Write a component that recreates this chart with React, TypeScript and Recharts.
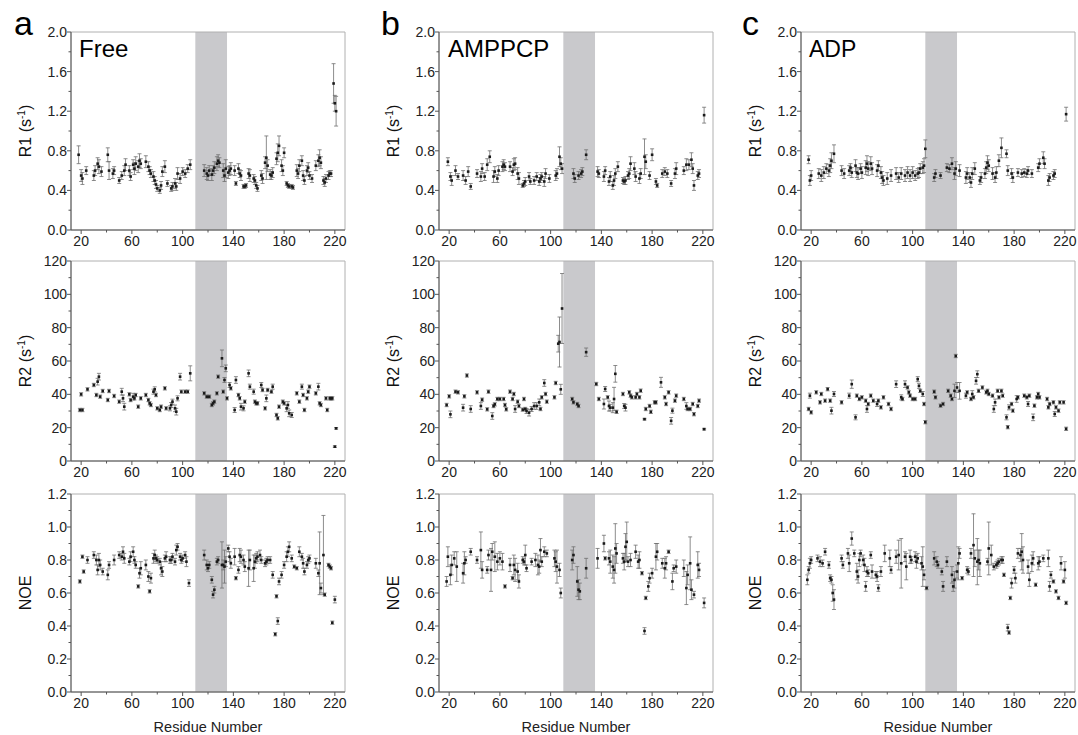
import React from 'react';
import { ScatterChart, Scatter, XAxis, YAxis, ErrorBar, ReferenceArea } from 'recharts';

const FONT = '"Liberation Sans", Arial, Helvetica, sans-serif';

// ---------- axis ticks ----------
const X_TICKS = [20, 40, 60, 80, 100, 120, 140, 160, 180, 200, 220];
const X_LABELS = [20, 60, 100, 140, 180, 220];
const R1_TICKS = [0, 0.2, 0.4, 0.6, 0.8, 1.0, 1.2, 1.4, 1.6, 1.8, 2.0];
const R1_LABELS = [0, 0.4, 0.8, 1.2, 1.6, 2.0];
const R2_TICKS = [0, 10, 20, 30, 40, 50, 60, 70, 80, 90, 100, 110, 120];
const R2_LABELS = [0, 20, 40, 60, 80, 100, 120];
const NOE_TICKS = [0, 0.1, 0.2, 0.3, 0.4, 0.5, 0.6, 0.7, 0.8, 0.9, 1.0, 1.1, 1.2];
const NOE_LABELS = [0, 0.2, 0.4, 0.6, 0.8, 1.0, 1.2];

const CONDITIONS = ['Free', 'AMPPCP', 'ADP'];
const PANEL_LETTERS = ['a', 'b', 'c'];
const BAND = [110, 135];

// ---------- Free ----------
const FREE_R1_RES = [18,20,21,24,30,31,33,34,36,41,42,45,46,50,52,54,55,58,59,61,62,63,65,66,67,71,73,74,75,77,78,79,80,82,83,84,86,88,91,92,94,95,96,98,100,102,104,106,117,119,120,121,123,124,125,127,128,129,132,133,134,136,137,138,141,142,144,145,146,148,149,150,152,153,156,157,158,159,162,163,165,166,167,169,170,171,174,175,176,178,179,180,182,183,184,186,187,190,191,192,194,195,196,198,199,200,202,205,207,208,209,211,212,213,215,216,217,219,220,221];
const FREE_R1_VAL = [0.76,0.55,0.52,0.60,0.55,0.60,0.67,0.64,0.59,0.76,0.60,0.57,0.60,0.50,0.55,0.60,0.66,0.60,0.54,0.66,0.62,0.67,0.64,0.70,0.67,0.69,0.64,0.60,0.57,0.54,0.50,0.46,0.42,0.40,0.45,0.59,0.64,0.47,0.42,0.44,0.47,0.44,0.57,0.52,0.59,0.57,0.62,0.66,0.60,0.57,0.55,0.60,0.56,0.60,0.63,0.67,0.70,0.68,0.60,0.55,0.62,0.58,0.60,0.62,0.60,0.47,0.62,0.57,0.55,0.44,0.44,0.45,0.57,0.55,0.52,0.50,0.45,0.42,0.55,0.52,0.68,0.73,0.65,0.56,0.55,0.58,0.72,0.78,0.85,0.65,0.60,0.78,0.47,0.45,0.44,0.44,0.43,0.60,0.57,0.65,0.70,0.55,0.50,0.60,0.63,0.55,0.52,0.65,0.70,0.73,0.68,0.50,0.48,0.52,0.55,0.57,0.57,1.48,1.28,1.20];
const FREE_R1_ERR = [0.09,0.06,0.06,0.04,0.05,0.05,0.06,0.07,0.05,0.07,0.09,0.05,0.04,0.03,0.04,0.05,0.06,0.05,0.04,0.05,0.06,0.07,0.06,0.07,0.05,0.06,0.05,0.04,0.04,0.05,0.04,0.04,0.03,0.03,0.04,0.05,0.06,0.03,0.03,0.04,0.05,0.04,0.06,0.05,0.04,0.04,0.04,0.05,0.06,0.06,0.05,0.05,0.06,0.05,0.06,0.07,0.06,0.05,0.07,0.06,0.09,0.06,0.05,0.06,0.05,0.02,0.05,0.04,0.05,0.02,0.02,0.02,0.05,0.06,0.04,0.04,0.03,0.03,0.05,0.05,0.06,0.22,0.06,0.05,0.04,0.05,0.06,0.09,0.10,0.06,0.05,0.05,0.02,0.02,0.02,0.02,0.02,0.06,0.05,0.06,0.05,0.05,0.04,0.05,0.05,0.04,0.04,0.05,0.06,0.08,0.06,0.04,0.04,0.04,0.04,0.03,0.03,0.20,0.08,0.15];

const FREE_R2_RES = [19,20,21,25,30,32,33,34,35,37,41,42,46,50,52,53,54,58,59,61,62,63,65,67,71,73,74,75,77,78,79,80,82,83,86,87,90,91,92,94,95,96,98,99,102,104,106,117,119,121,123,124,125,127,128,131,132,133,134,135,137,138,141,142,144,145,146,148,149,152,153,156,157,158,159,162,163,165,166,167,170,171,174,175,176,179,180,182,183,184,186,190,192,194,195,196,198,199,200,205,207,208,209,213,214,216,217,218,220,221];
const FREE_R2_VAL = [30.6,40.0,30.6,43.0,45.6,39.6,47.6,50.6,38.6,42.0,36.6,42.0,39.0,35.6,41.6,37.6,32.6,40.0,36.6,38.6,37.6,39.6,32.6,37.6,39.6,36.6,34.6,33.6,41.6,43.0,39.6,31.6,30.6,32.6,43.6,31.6,31.6,33.6,35.6,31.6,29.6,37.6,50.6,41.6,41.6,41.6,52.6,40.6,38.6,38.6,33.6,34.6,35.6,40.6,50.6,61.6,41.6,48.6,55.6,37.6,45.6,43.6,30.6,48.6,39.6,37.6,32.6,31.6,35.6,52.6,44.6,41.6,35.6,34.6,34.6,45.6,42.6,31.6,37.6,42.6,41.6,44.6,27.6,25.6,32.6,35.6,34.6,31.6,33.6,28.6,27.6,40.6,35.6,44.6,39.6,30.6,37.6,41.6,44.6,40.6,44.6,34.6,33.6,37.6,30.6,37.6,37.6,37.6,8.6,19.6];
const FREE_R2_ERR = [1,1,1,1,1,1,2,2,1,1,1,1,1,1,2,2,2,1,1,2,1,1,1,1,1,1,1,1,1.5,1.5,1,1,1,1,1,1,1.5,1.5,1.5,2,2,1.5,2,1,1,1,4.5,1,1,1,1,1,1,1,1,5,1,1.5,2,1,1.5,1,1.5,2,1,1,2,1.5,1,2,1.5,1.5,1,1,1,1.5,1,1,2,1,1,1.5,1,1,1,1,1,2,2,2,1.5,1,1,1.5,1,1,1,1,1,1,2,1,1,1,1,1,1,1,0.5,0.5];

const FREE_NOE_RES = [19,21,22,25,30,32,33,34,35,37,41,42,46,50,52,53,54,58,59,61,62,63,65,66,67,71,73,74,75,77,78,79,80,82,83,84,86,87,90,91,92,94,95,96,98,99,100,102,103,105,117,119,120,121,123,124,125,127,128,131,132,133,134,136,137,138,141,142,144,145,146,148,149,152,153,156,157,158,159,161,162,165,166,167,169,171,173,174,175,176,178,180,182,183,184,186,188,190,192,194,195,196,198,199,200,205,207,208,209,211,212,215,216,217,218,220];
const FREE_NOE_VAL = [0.67,0.82,0.73,0.80,0.83,0.80,0.74,0.80,0.77,0.73,0.71,0.77,0.80,0.83,0.82,0.85,0.81,0.79,0.82,0.85,0.80,0.77,0.64,0.72,0.75,0.77,0.70,0.61,0.69,0.81,0.83,0.81,0.80,0.79,0.75,0.73,0.81,0.82,0.80,0.80,0.82,0.79,0.86,0.88,0.82,0.80,0.81,0.83,0.79,0.66,0.83,0.77,0.75,0.77,0.68,0.59,0.62,0.79,0.80,0.77,0.77,0.76,0.79,0.87,0.82,0.78,0.82,0.69,0.74,0.83,0.82,0.80,0.76,0.75,0.80,0.75,0.79,0.81,0.82,0.83,0.80,0.78,0.79,0.80,0.80,0.71,0.35,0.58,0.43,0.67,0.71,0.77,0.82,0.85,0.88,0.81,0.76,0.75,0.85,0.82,0.78,0.73,0.77,0.80,0.81,0.78,0.72,0.78,0.63,0.83,0.59,0.77,0.76,0.75,0.42,0.56];
const FREE_NOE_ERR = [0.01,0.01,0.01,0.02,0.02,0.03,0.03,0.04,0.03,0.02,0.03,0.02,0.03,0.02,0.02,0.03,0.03,0.02,0.03,0.03,0.02,0.02,0.01,0.03,0.04,0.03,0.03,0.01,0.03,0.03,0.03,0.02,0.02,0.02,0.04,0.03,0.02,0.03,0.02,0.02,0.02,0.02,0.03,0.02,0.02,0.02,0.02,0.02,0.03,0.02,0.03,0.03,0.02,0.02,0.02,0.02,0.02,0.02,0.02,0.14,0.03,0.10,0.03,0.02,0.03,0.03,0.05,0.01,0.02,0.04,0.04,0.03,0.03,0.11,0.06,0.08,0.04,0.03,0.03,0.03,0.02,0.02,0.02,0.02,0.02,0.02,0.01,0.01,0.02,0.02,0.02,0.02,0.03,0.03,0.03,0.02,0.01,0.01,0.03,0.02,0.03,0.02,0.02,0.02,0.02,0.03,0.02,0.19,0.03,0.24,0.01,0.01,0.01,0.01,0.01,0.02];

// ---------- AMPPCP ----------
const AMP_R1_RES = [19,21,22,25,27,31,33,35,37,42,45,46,48,50,52,55,56,58,59,62,63,64,68,70,71,72,74,75,78,79,80,83,84,87,89,91,92,93,95,96,99,104,105,107,108,109,118,119,122,124,125,128,137,138,142,143,146,147,149,150,151,153,157,158,159,161,162,163,166,167,170,171,174,175,178,180,183,184,188,190,192,195,198,199,205,207,209,211,212,213,216,217,221];
const AMP_R1_VAL = [0.69,0.54,0.50,0.60,0.54,0.55,0.50,0.59,0.44,0.57,0.54,0.62,0.54,0.66,0.74,0.54,0.59,0.52,0.60,0.64,0.66,0.64,0.64,0.59,0.66,0.67,0.57,0.52,0.45,0.47,0.49,0.54,0.49,0.50,0.54,0.49,0.52,0.54,0.49,0.57,0.52,0.55,0.57,0.74,0.67,0.62,0.57,0.52,0.55,0.57,0.59,0.76,0.59,0.57,0.54,0.60,0.49,0.54,0.45,0.50,0.57,0.64,0.50,0.49,0.50,0.55,0.57,0.67,0.62,0.54,0.52,0.57,0.74,0.69,0.55,0.76,0.49,0.45,0.57,0.59,0.57,0.47,0.57,0.62,0.60,0.66,0.66,0.71,0.62,0.45,0.55,0.57,1.16];
const AMP_R1_ERR = [0.04,0.04,0.05,0.05,0.03,0.05,0.04,0.05,0.03,0.04,0.05,0.05,0.04,0.06,0.06,0.06,0.05,0.04,0.05,0.05,0.05,0.04,0.05,0.04,0.06,0.06,0.06,0.06,0.02,0.03,0.04,0.04,0.03,0.04,0.04,0.04,0.04,0.04,0.05,0.05,0.04,0.05,0.05,0.10,0.06,0.05,0.05,0.04,0.04,0.04,0.04,0.05,0.05,0.04,0.05,0.04,0.04,0.05,0.04,0.05,0.05,0.05,0.03,0.03,0.04,0.04,0.05,0.07,0.06,0.05,0.05,0.05,0.18,0.07,0.04,0.06,0.03,0.02,0.04,0.04,0.04,0.03,0.05,0.06,0.04,0.06,0.05,0.07,0.05,0.05,0.04,0.04,0.08];

const AMP_R2_RES = [18,20,21,25,27,31,32,34,37,42,45,46,50,51,54,55,56,58,60,63,64,65,68,70,71,72,74,75,78,79,80,81,83,85,87,89,91,92,93,95,96,97,103,104,106,107,108,109,117,118,121,122,128,136,138,142,143,145,146,147,149,150,151,152,157,158,159,162,163,164,167,168,170,171,174,175,178,179,182,183,187,190,191,193,195,196,198,199,205,207,208,210,212,213,216,217,221];
const AMP_R2_VAL = [33.6,38.8,28.0,41.6,41.2,32.0,38.8,51.3,31.2,41.2,33.0,36.8,31.0,41.6,27.0,33.0,34.0,37.2,37.2,37.2,33.6,31.0,41.6,37.2,40.2,31.2,35.6,33.0,30.8,37.2,31.2,30.0,29.0,31.2,33.0,33.0,35.2,31.2,38.2,46.8,40.2,35.6,38.2,46.8,70.4,71.4,43.0,91.5,37.2,35.2,34.2,33.0,65.3,46.2,37.2,34.2,43.2,38.2,33.0,32.0,32.0,37.2,52.3,29.5,40.2,33.0,32.0,41.2,39.2,38.2,38.2,40.2,38.2,42.2,25.1,31.2,33.0,29.5,35.2,35.2,47.2,38.2,34.2,41.2,24.1,30.2,36.2,39.2,37.2,33.0,31.2,31.2,34.2,28.1,33.0,36.2,19.1];
const AMP_R2_ERR = [1,1,2,1,1,2,1,1,2,1,2,1,1,1,2,1,1,1,1,1,1,1,1,1,1,2,1,1,1,1,1,1.5,2,1.5,2,2,2,1,1,2,1,1,1,1,5,15,3,21,1,1,1,1,2.5,1,1,3,1.5,1,3,2,3,7,5,1,1,1.5,2,1,1,1,1,1,1,1,0.5,1,1,1,1,1,3,1,1,1,2,1.5,1,1,1,2,1,1,1,1,1,1,0.5];

const AMP_NOE_RES = [18,19,21,22,24,26,31,32,33,37,42,45,46,50,51,53,54,56,58,60,62,64,68,70,71,72,74,75,78,79,80,81,85,88,90,91,92,93,95,97,103,104,105,107,108,117,118,121,122,123,128,137,142,143,146,147,149,150,151,152,157,158,159,160,161,163,167,169,170,172,174,175,177,178,180,183,184,188,190,191,193,196,197,199,205,207,208,210,211,213,216,217,221];
const AMP_NOE_VAL = [0.67,0.82,0.71,0.77,0.81,0.76,0.72,0.78,0.80,0.85,0.80,0.86,0.74,0.74,0.83,0.74,0.85,0.82,0.79,0.81,0.79,0.64,0.77,0.69,0.77,0.74,0.73,0.67,0.80,0.79,0.83,0.75,0.79,0.80,0.77,0.76,0.86,0.79,0.85,0.84,0.81,0.79,0.76,0.74,0.60,0.80,0.83,0.67,0.62,0.61,0.75,0.81,0.90,0.81,0.81,0.79,0.76,0.74,0.87,0.84,0.81,0.79,0.88,0.91,0.79,0.80,0.85,0.79,0.80,0.72,0.37,0.57,0.64,0.69,0.72,0.82,0.85,0.78,0.75,0.78,0.85,0.67,0.75,0.76,0.75,0.63,0.71,0.78,0.62,0.59,0.77,0.74,0.54];
const AMP_NOE_ERR = [0.03,0.06,0.06,0.06,0.04,0.09,0.06,0.07,0.02,0.02,0.02,0.11,0.05,0.02,0.03,0.13,0.05,0.09,0.05,0.04,0.05,0.01,0.04,0.01,0.06,0.07,0.05,0.04,0.02,0.02,0.06,0.02,0.02,0.04,0.06,0.04,0.07,0.03,0.03,0.02,0.05,0.06,0.10,0.04,0.03,0.06,0.05,0.09,0.06,0.05,0.06,0.06,0.05,0.01,0.04,0.07,0.07,0.08,0.15,0.06,0.03,0.05,0.08,0.12,0.03,0.04,0.04,0.04,0.05,0.01,0.02,0.01,0.03,0.03,0.03,0.08,0.05,0.03,0.06,0.04,0.01,0.05,0.02,0.04,0.05,0.10,0.06,0.16,0.06,0.02,0.08,0.04,0.03];

// ---------- ADP ----------
const ADP_R1_RES = [18,19,20,26,28,30,32,34,35,36,38,44,46,50,51,52,55,56,57,59,60,63,64,65,67,68,72,73,75,76,77,80,83,87,89,91,94,96,98,100,102,104,105,106,108,109,110,117,118,122,127,129,131,133,134,137,142,143,145,146,147,149,153,154,157,158,159,160,163,165,166,168,170,174,175,178,179,183,186,188,190,191,194,199,200,203,204,207,208,211,212,221];
const ADP_R1_VAL = [0.71,0.50,0.55,0.57,0.55,0.58,0.62,0.60,0.65,0.70,0.77,0.60,0.57,0.60,0.63,0.58,0.65,0.58,0.57,0.62,0.58,0.63,0.67,0.62,0.67,0.62,0.60,0.65,0.58,0.53,0.50,0.52,0.55,0.57,0.53,0.57,0.55,0.58,0.55,0.58,0.55,0.57,0.58,0.62,0.63,0.65,0.82,0.53,0.57,0.55,0.63,0.62,0.67,0.57,0.62,0.60,0.53,0.57,0.53,0.48,0.57,0.62,0.50,0.53,0.57,0.63,0.68,0.65,0.57,0.53,0.58,0.70,0.83,0.77,0.60,0.57,0.53,0.58,0.57,0.58,0.57,0.60,0.57,0.63,0.67,0.73,0.67,0.50,0.53,0.55,0.57,1.17];
const ADP_R1_ERR = [0.04,0.05,0.05,0.05,0.06,0.06,0.05,0.06,0.07,0.08,0.09,0.05,0.05,0.05,0.04,0.05,0.06,0.05,0.06,0.05,0.06,0.07,0.08,0.07,0.07,0.06,0.06,0.05,0.06,0.06,0.05,0.06,0.06,0.06,0.05,0.06,0.06,0.06,0.06,0.06,0.05,0.05,0.05,0.05,0.06,0.07,0.09,0.04,0.04,0.03,0.04,0.04,0.06,0.06,0.07,0.06,0.06,0.06,0.05,0.05,0.06,0.06,0.04,0.05,0.05,0.06,0.07,0.06,0.06,0.05,0.06,0.06,0.10,0.04,0.05,0.05,0.05,0.04,0.04,0.04,0.04,0.04,0.04,0.04,0.05,0.06,0.05,0.05,0.04,0.04,0.04,0.07];

const ADP_R2_RES = [18,19,20,24,27,28,31,33,35,36,38,44,50,52,55,56,58,60,63,64,65,67,69,72,73,75,77,81,83,87,91,92,94,96,97,98,100,102,104,105,106,108,109,110,117,118,122,124,128,130,131,133,134,135,137,142,143,146,147,148,150,151,152,155,158,159,160,163,164,165,167,168,170,171,174,175,176,178,179,182,183,188,190,191,192,195,196,198,199,200,206,207,208,211,212,213,215,216,219,221];
const ADP_R2_VAL = [31.2,39.2,29.2,41.2,35.2,40.2,36.2,43.1,36.2,30.2,40.2,35.2,39.2,46.1,26.2,39.2,37.2,38.2,36.2,31.2,34.2,39.2,36.2,34.2,36.2,32.2,38.2,34.2,31.2,46.1,38.2,37.2,46.1,44.1,41.2,39.2,37.2,37.2,49.1,45.1,42.1,40.2,34.2,23.3,41.6,38.2,33.2,34.2,42.1,39.2,37.2,42.1,63.0,44.1,42.1,39.2,41.2,37.2,40.2,38.2,48.1,52.1,42.1,44.1,41.2,42.1,40.2,39.2,31.2,35.2,42.1,38.2,42.1,39.2,26.2,20.3,32.2,34.2,30.2,37.2,38.2,39.2,38.2,34.2,39.2,26.2,33.2,38.2,40.2,38.2,37.2,32.2,34.2,35.2,28.2,32.2,30.2,35.2,35.2,19.3];
const ADP_R2_ERR = [1,1.5,1,1,1,1,1,1,1,2,1.5,1,1.5,2.5,1.5,1,1,1,1,2,1,1,1,1.5,1,1,1,1,1,2,1.5,1,2,1,1,1,1,1,1.5,1.5,1,1.5,1,1,1,1,1,1,1,1,1,4,1,3,5,1.5,1,1,2,1,2,2,1,1,1,1,1,1,2,2,1,1,1,1,1.5,1,1.5,1,1,2,1,1,1,1.5,1,2,1,1,1,1,1,1,1,1,1.5,1,1,1,1,1];

const ADP_NOE_RES = [17,18,19,20,25,27,29,31,34,35,36,37,38,44,45,49,50,52,54,56,57,58,59,61,62,63,64,65,67,68,71,72,73,75,78,82,83,87,89,91,94,95,98,99,102,103,104,107,108,109,111,117,119,120,123,124,127,131,132,133,135,136,137,139,143,144,146,148,149,151,152,153,159,160,162,164,166,167,168,170,171,172,175,176,177,178,180,181,183,185,186,187,191,192,194,195,197,199,200,203,207,208,209,211,213,215,217,219,220,221];
const ADP_NOE_VAL = [0.68,0.74,0.78,0.80,0.81,0.79,0.78,0.85,0.77,0.69,0.68,0.60,0.56,0.81,0.77,0.84,0.78,0.93,0.84,0.73,0.70,0.80,0.84,0.80,0.77,0.64,0.73,0.72,0.83,0.73,0.71,0.70,0.63,0.73,0.84,0.81,0.74,0.82,0.83,0.78,0.82,0.76,0.82,0.80,0.82,0.79,0.81,0.78,0.76,0.71,0.63,0.81,0.79,0.77,0.73,0.64,0.79,0.71,0.64,0.68,0.73,0.78,0.84,0.69,0.74,0.73,0.84,0.89,0.81,0.79,0.80,0.78,0.79,0.87,0.83,0.76,0.77,0.78,0.79,0.80,0.80,0.71,0.39,0.36,0.57,0.66,0.74,0.69,0.84,0.83,0.85,0.80,0.76,0.68,0.78,0.81,0.65,0.78,0.79,0.81,0.81,0.64,0.71,0.67,0.61,0.57,0.78,0.67,0.74,0.54];
const ADP_NOE_ERR = [0.03,0.02,0.03,0.02,0.02,0.03,0.02,0.02,0.02,0.02,0.02,0.05,0.06,0.02,0.02,0.03,0.05,0.04,0.02,0.05,0.04,0.04,0.02,0.03,0.04,0.03,0.03,0.02,0.02,0.04,0.02,0.03,0.02,0.03,0.05,0.05,0.02,0.04,0.09,0.15,0.03,0.08,0.04,0.02,0.03,0.04,0.03,0.04,0.12,0.03,0.01,0.04,0.03,0.02,0.02,0.03,0.03,0.05,0.03,0.05,0.04,0.10,0.03,0.01,0.02,0.02,0.03,0.19,0.05,0.14,0.06,0.08,0.02,0.16,0.06,0.02,0.02,0.02,0.02,0.02,0.02,0.01,0.02,0.01,0.01,0.03,0.02,0.03,0.03,0.04,0.11,0.08,0.04,0.04,0.05,0.04,0.01,0.04,0.03,0.02,0.05,0.03,0.02,0.01,0.01,0.01,0.04,0.01,0.05,0.01];

// ---------- layout ----------
const COL_LEFT = [71, 439, 801];
const ROWS = [
  { top: 32, h: 198 },
  { top: 261, h: 200 },
  { top: 494, h: 198 },
];
const PLOT_W = 274;

type AxisCfg = { domain: [number, number]; ticks: number[]; labels: number[]; fmt: (v: number) => string; title: string; sup: boolean };
const AXES: AxisCfg[] = [
  { domain: [0, 2], ticks: R1_TICKS, labels: R1_LABELS, fmt: (v) => v.toFixed(1), title: 'R1 (s', sup: true },
  { domain: [0, 120], ticks: R2_TICKS, labels: R2_LABELS, fmt: (v) => String(v), title: 'R2 (s', sup: true },
  { domain: [0, 1.2], ticks: NOE_TICKS, labels: NOE_LABELS, fmt: (v) => v.toFixed(1), title: 'NOE', sup: false },
];

const SERIES = [
  [
    [FREE_R1_RES, FREE_R1_VAL, FREE_R1_ERR],
    [FREE_R2_RES, FREE_R2_VAL, FREE_R2_ERR],
    [FREE_NOE_RES, FREE_NOE_VAL, FREE_NOE_ERR],
  ],
  [
    [AMP_R1_RES, AMP_R1_VAL, AMP_R1_ERR],
    [AMP_R2_RES, AMP_R2_VAL, AMP_R2_ERR],
    [AMP_NOE_RES, AMP_NOE_VAL, AMP_NOE_ERR],
  ],
  [
    [ADP_R1_RES, ADP_R1_VAL, ADP_R1_ERR],
    [ADP_R2_RES, ADP_R2_VAL, ADP_R2_ERR],
    [ADP_NOE_RES, ADP_NOE_VAL, ADP_NOE_ERR],
  ],
];

const near = (arr: number[], v: number) => arr.some((a) => Math.abs(a - v) < 1e-6);

const XTick = (p: any) => {
  const v = p.payload.value;
  const major = near(X_LABELS, v);
  return (
    <g>
      <line x1={p.x} x2={p.x} y1={p.y} y2={p.y + (major ? 4 : 2.5)} stroke="#555" strokeWidth={1} />
      {major && (
        <text x={p.x} y={p.y + 16} textAnchor="middle" fontSize={14} fill="#222" fontFamily={FONT}>
          {v}
        </text>
      )}
    </g>
  );
};

const makeYTick = (cfg: AxisCfg) => (p: any) => {
  const v = p.payload.value;
  const major = near(cfg.labels, v);
  return (
    <g>
      <line x1={p.x} x2={p.x - (major ? 4 : 2.5)} y1={p.y} y2={p.y} stroke="#555" strokeWidth={1} />
      {major && (
        <text x={p.x - 4} y={p.y} dy="0.36em" textAnchor="end" fontSize={14} fill="#222" fontFamily={FONT}>
          {cfg.fmt(v)}
        </text>
      )}
    </g>
  );
};

const dotShape = (p: any) => <rect x={p.cx - 1.3} y={p.cy - 1.3} width={2.6} height={2.6} fill="#1a1a1a" />;

function Panel({ col, row }: { col: number; row: number }) {
  const [res, val, err] = SERIES[col][row];
  const cfg = AXES[row];
  const { top, h } = ROWS[row];
  const left = COL_LEFT[col];
  const data = res.map((r, i) => ({ x: r, y: val[i], e: err[i] }));
  const ML = 60, MT = 12, MR = 2, MB = 24;
  return (
    <div style={{ position: 'absolute', left: left - ML, top: top - MT }}>
      <ScatterChart width={PLOT_W + ML + MR} height={h + MT + MB} margin={{ top: MT, right: MR, bottom: 0, left: 0 }}>
        <XAxis
          type="number"
          dataKey="x"
          domain={[12, 228]}
          ticks={X_TICKS}
          interval={0}
          tickSize={0}
          tickMargin={0}
          tickLine={false}
          tick={XTick}
          height={MB}
          axisLine={{ stroke: '#555', strokeWidth: 1 }}
        />
        <YAxis
          type="number"
          dataKey="y"
          domain={cfg.domain}
          ticks={cfg.ticks}
          interval={0}
          tickSize={0}
          tickMargin={0}
          tickLine={false}
          tick={makeYTick(cfg)}
          width={ML}
          axisLine={{ stroke: '#555', strokeWidth: 1 }}
        />
        <ReferenceArea x1={BAND[0]} x2={BAND[1]} fill="#c9c9cc" fillOpacity={1} stroke="none" />
        <ReferenceArea x1={12} x2={228} y1={cfg.domain[0]} y2={cfg.domain[1]} fill="none" stroke="#b0b0b0" strokeWidth={1} />
        <Scatter data={data} isAnimationActive={false} shape={dotShape}>
          <ErrorBar dataKey="e" direction="y" width={2} stroke="#707070" strokeWidth={0.8} />
        </Scatter>
      </ScatterChart>
    </div>
  );
}

export default function App() {
  const letterX = [14, 381, 742];
  const condX = [79, 448, 809];
  const condSize = [24, 24, 23];
  return (
    <div style={{ position: 'absolute', left: 0, top: 0, width: 1078, height: 735, overflow: 'hidden', background: '#fff', fontFamily: FONT }}>
      {[0, 1, 2].map((c) => [0, 1, 2].map((r) => <Panel key={`${c}-${r}`} col={c} row={r} />))}
      <svg width={1078} height={735} style={{ position: 'absolute', left: 0, top: 0, pointerEvents: 'none' }}>
        {PANEL_LETTERS.map((l, i) => (
          <text key={l} x={letterX[i]} y={35} fontSize={34} fontFamily={FONT} fill="#000">
            {l}
          </text>
        ))}
        {CONDITIONS.map((t, i) => (
          <text key={t} x={condX[i]} y={57} fontSize={condSize[i]} fontFamily={FONT} fill="#000">
            {t}
          </text>
        ))}
        {COL_LEFT.map((cl, c) =>
          ROWS.map((rw, r) => {
            const cx = cl - 46;
            const cy = rw.top + rw.h / 2;
            const cfg = AXES[r];
            return (
              <text
                key={`yl-${c}-${r}`}
                transform={`rotate(-90 ${cx} ${cy})`}
                x={cx}
                y={cy}
                dy="0.36em"
                textAnchor="middle"
                fontSize={16}
                fontFamily={FONT}
                fill="#111"
              >
                {cfg.title}
                {cfg.sup && (
                  <>
                    <tspan dy={-6} fontSize={10}>-1</tspan>
                    <tspan dy={6}>)</tspan>
                  </>
                )}
              </text>
            );
          })
        )}
        {COL_LEFT.map((cl, c) => (
          <text key={`xl-${c}`} x={cl + PLOT_W / 2} y={732} textAnchor="middle" fontSize={14.5} fontFamily={FONT} fill="#222">
            Residue Number
          </text>
        ))}
      </svg>
    </div>
  );
}
